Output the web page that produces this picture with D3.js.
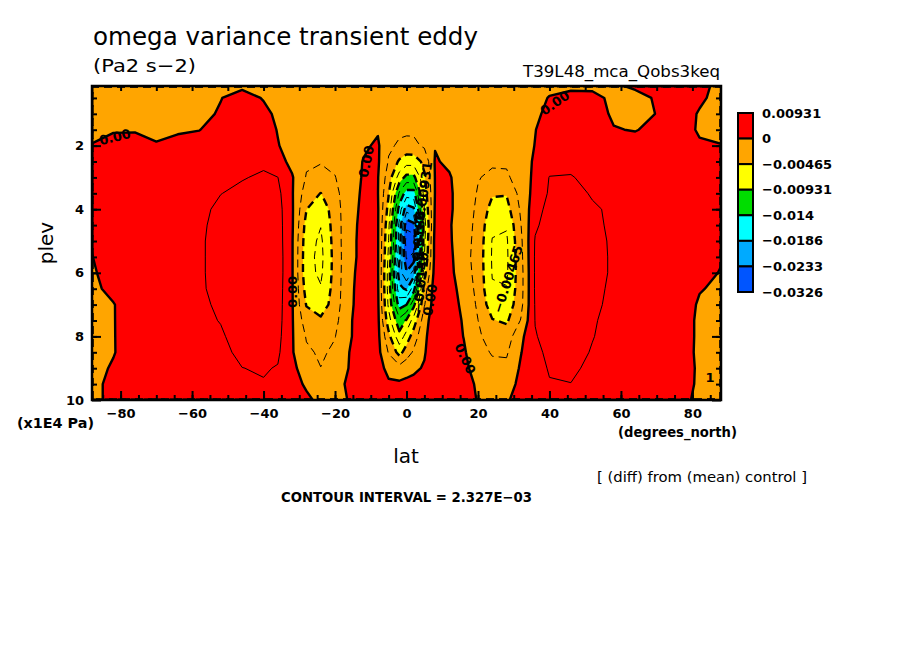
<!DOCTYPE html>
<html>
<head>
<meta charset="utf-8">
<script src="https://cdnjs.cloudflare.com/ajax/libs/d3/7.8.5/d3.min.js"></script>
<style>
  body { margin: 0; background: #fff; }
  text { font-family: "DejaVu Sans", sans-serif; fill: #000; }
</style>
</head>
<body>
<svg id="chart" width="904" height="654"></svg>
<script>
// grid of the field: latitude columns and pressure rows (x1E4 Pa)
const lat = [-88, -82, -76, -70, -64, -58, -52, -46, -40, -36, -32, -28, -24, -20, -16, -12, -8, -5, -2, 0,
             2, 5, 8, 12, 16, 20, 24, 28, 32, 36, 40, 46, 52, 58, 64, 70, 76, 82, 88];
const plev = [0.125, 0.5, 1, 1.5, 2, 2.5, 3, 3.5, 4, 4.5, 5, 5.5, 6, 6.5, 7, 7.5, 8, 8.5, 9, 9.5, 10];

// omega variance, one column per latitude (top -> bottom), in 1E-3 Pa2 s-2
const omegaCols = [
  [-0.8,-0.7,-0.5,-0.3,0.05,0.4,0.7,0.9,1.0,0.6,0.1,-0.05,-0.3,-0.5,-0.7,-0.8,-0.8,-0.7,-0.6,-0.5,-0.5],
  [-0.8,-0.7,-0.5,-0.1,0.4,0.8,1.1,1.3,1.4,1.4,1.3,1.2,1.0,0.6,-0.1,-0.1,-0.1,-0.1,0.2,0.5,0.5],
  [-0.8,-0.7,-0.45,-0.1,0.5,1.0,1.4,1.6,1.8,1.9,1.9,1.8,1.7,1.5,1.3,1.2,1.1,1.0,0.9,0.9,0.8],
  [-0.8,-0.7,-0.6,-0.3,0.1,0.8,1.4,1.7,1.9,2.0,2.0,1.9,1.9,1.8,1.7,1.6,1.5,1.4,1.3,1.2,1.1],
  [-0.7,-0.6,-0.45,-0.2,0.5,1.0,1.5,1.8,2.0,2.0,2.0,2.0,2.0,1.9,1.8,1.7,1.6,1.5,1.4,1.3,1.2],
  [-0.6,-0.4,-0.4,-0.05,0.8,1.4,1.7,1.9,2.0,2.05,2.1,2.1,2.1,2.1,2.0,1.9,1.8,1.6,1.5,1.4,1.3],
  [-0.3,-0.05,0.15,0.8,1.5,1.8,2.1,2.3,2.6,2.8,2.9,2.9,2.9,2.8,2.6,2.4,2.1,1.8,1.5,1.3,1.2],
  [-0.3,0.6,1.0,1.5,2.0,2.1,2.25,2.6,3.0,3.3,3.5,3.6,3.6,3.6,3.5,3.4,3.1,2.8,2.3,2.0,1.8],
  [-0.4,-0.1,0.4,0.9,1.8,2.1,2.5,3.0,3.4,3.6,3.8,3.9,4.0,4.0,3.9,3.7,3.4,3.0,2.5,2.2,2.0],
  [-0.7,-0.6,-0.3,-0.1,0.1,0.8,2.35,2.9,3.2,3.3,3.4,3.5,3.5,3.4,3.3,3.2,3.0,2.7,2.2,1.9,1.7],
  [-0.8,-0.8,-0.7,-0.6,-0.8,-0.6,0.2,0.2,0.3,0.3,0.2,0.2,0.2,0.2,0.2,0.2,0.2,0.2,0.5,0.8,1.0],
  [-0.9,-1.0,-1.0,-1.1,-1.6,-2.0,-2.5,-3.5,-4.6,-5.5,-6.0,-6.2,-6.2,-5.6,-4.8,-3.5,-2.5,-2.0,-1.0,-0.3,0.4],
  [-0.9,-1.0,-1.1,-1.3,-1.8,-2.2,-3.0,-4.7,-6.2,-6.9,-7.4,-7.6,-7.4,-6.8,-6.0,-4.2,-3.0,-2.6,-2.3,-1.0,-0.5],
  [-0.9,-1.0,-1.1,-1.3,-1.6,-1.9,-2.4,-3.0,-3.4,-3.6,-3.7,-3.8,-3.8,-3.7,-3.5,-3.0,-2.4,-2.0,-1.5,-0.6,-0.6],
  [-0.9,-1.0,-1.1,-1.1,-1.0,-1.0,-1.0,-0.8,-0.7,-0.6,-0.5,-0.5,-0.4,-0.3,-0.3,-0.2,-0.2,0.0,0.1,0.3,0.1],
  [-0.9,-1.0,-1.1,-0.7,-0.3,0.1,0.2,0.3,0.4,0.5,0.5,0.5,0.6,0.6,0.7,0.8,0.9,1.0,1.1,1.2,1.2],
  [-1.0,-1.1,-1.1,-0.2,0.3,0.3,0.1,0.05,0.2,0.2,0.2,0.2,0.2,0.3,0.4,0.5,0.6,0.7,0.8,0.9,1.0],
  [-1.0,-1.2,-1.4,-1.6,-2.0,-2.5,-3.5,-4.5,-5.5,-6.5,-7.0,-7.5,-8.0,-8.0,-7.5,-6.0,-4.0,-2.5,-0.6,0.3,0.8],
  [-1.1,-1.3,-1.6,-2.0,-2.6,-5.0,-8.0,-12,-15,-17,-17,-18,-20,-18,-15,-11,-8.5,-5.5,-1.5,0.4,0.7],
  [-1.1,-1.3,-1.6,-1.9,-3.0,-6.0,-10,-15,-20,-25,-27,-26,-23,-19,-14,-9,-6,-3.5,-0.8,0.5,0.8],
  [-1.1,-1.3,-1.6,-2.0,-2.8,-6.0,-10,-15,-19,-24,-27,-25,-20,-15,-10,-6,-3.5,-2.0,-0.4,0.6,0.9],
  [-1.0,-1.2,-1.4,-1.6,-2.0,-4.0,-5.0,-6.0,-7.0,-8.0,-7.5,-7.0,-5.5,-3.5,-2.5,-1.0,-0.5,-0.2,0.2,0.8,1.1],
  [-1.0,-1.1,-1.1,-0.6,-0.1,0.2,0.1,0.1,0.3,0.5,0.8,0.8,1.0,1.3,1.4,1.5,1.6,1.6,1.5,1.4,1.4],
  [-0.9,-1.0,-1.0,-0.7,-0.6,-0.4,0.2,0.3,0.3,0.2,0.3,0.5,0.6,0.8,1.0,1.1,1.2,1.3,1.3,1.3,1.3],
  [-0.9,-1.0,-1.1,-1.2,-1.2,-1.3,-1.2,-1.0,-1.0,-1.2,-1.4,-1.5,-1.3,-0.8,-0.5,-0.2,-0.05,0.3,0.6,0.8,0.8],
  [-0.9,-1.0,-1.1,-1.3,-1.5,-1.7,-2.2,-2.5,-2.8,-3.0,-3.1,-3.2,-3.1,-3.0,-2.7,-2.3,-2.0,-1.6,-1.0,-0.3,-0.1],
  [-0.9,-1.0,-1.1,-1.3,-1.6,-2.0,-2.8,-4.4,-5.5,-6.5,-7.1,-7.2,-7.1,-6.8,-6.0,-4.5,-3.2,-2.5,-1.8,-1.2,-0.8],
  [-0.9,-1.0,-1.1,-1.3,-1.5,-2.0,-2.7,-4.5,-5.5,-6.8,-7.3,-7.4,-7.3,-6.9,-6.2,-5.0,-3.5,-2.6,-1.8,-1.0,-0.2],
  [-0.8,-0.8,-0.7,-0.6,-0.8,-1.0,-1.2,-1.5,-2.0,-2.4,-2.8,-3.0,-3.2,-3.2,-3.0,-2.2,-0.6,-0.1,0.3,0.6,0.7],
  [-0.7,-0.6,-0.3,-0.05,0.05,0.3,0.5,0.8,1.5,2.0,2.5,2.6,2.6,2.6,2.5,2.4,2.2,1.8,1.5,1.3,1.2],
  [-0.5,0.1,0.4,0.8,1.0,1.4,2.4,2.6,3.0,3.2,3.4,3.5,3.5,3.5,3.4,3.2,3.0,2.8,2.5,2.2,1.9],
  [-0.4,0.6,1.0,1.5,1.8,2.0,2.4,2.8,3.2,3.4,3.6,3.7,3.8,3.8,3.7,3.5,3.3,3.0,2.6,2.3,2.0],
  [-0.4,0.5,0.9,1.3,1.6,1.8,2.0,2.2,2.5,2.6,2.8,2.9,2.9,2.8,2.7,2.5,2.4,2.2,2.0,1.9,1.7],
  [-0.3,-0.4,-0.3,0.1,0.9,1.3,1.8,2.0,2.1,2.1,2.1,2.1,2.1,2.0,1.9,1.8,1.7,1.6,1.5,1.4,1.3],
  [0.3,-0.6,-0.6,-0.1,0.8,1.2,1.6,1.8,2.0,2.0,2.0,1.9,1.8,1.7,1.6,1.5,1.4,1.3,1.2,1.1,1.0],
  [0.5,0.2,0.05,0.5,0.9,1.2,1.5,1.7,1.8,1.8,1.8,1.7,1.6,1.5,1.4,1.3,1.2,1.1,1.0,0.9,0.8],
  [0.5,0.6,0.6,0.8,0.9,1.1,1.3,1.5,1.6,1.6,1.6,1.5,1.4,1.2,1.0,0.9,0.9,0.8,0.7,0.6,0.3],
  [0.3,0.2,-0.1,-0.2,0.2,0.8,1.0,1.2,1.3,1.3,1.3,1.0,0.6,0.1,-0.2,-0.3,-0.3,-0.3,-0.2,-0.2,-0.2],
  [-0.3,-0.4,-0.6,-0.4,0.05,0.5,0.8,1.0,1.1,1.1,0.5,0.15,-0.1,-0.3,-0.5,-0.6,-0.6,-0.5,-0.4,-0.4,-0.4]
];

// colour key (top -> bottom)
const legendLevels = [0.00931, 0, -0.00465, -0.00931, -0.014, -0.0186, -0.0233, -0.0326];
const legendLabels = ["0.00931", "0", "\u22120.00465", "\u22120.00931", "\u22120.014", "\u22120.0186", "\u22120.0233", "\u22120.0326"];
const bandColors = ["#ff0000", "#ffa500", "#ffff00", "#00dd00", "#00ffff", "#00aaff", "#0055ff"];

const contourInterval = 0.002327;
const lineSteps = d3.range(-14, 4);

const xTicks = [-80, -60, -40, -20, 0, 20, 40, 60, 80];
const yTicks = [2, 4, 6, 8, 10];

// contour labels: text, lat, plev, angle
const cLabelText  = ["0.00", "0.00", "0.00", "0.00", "0.00", "0.00", "\u22120.00465", "\u22120.00931", "\u22120.0186", "\u22120.0140", "1"];
const cLabelLat   = [-81.6, -11.2, -32.0, 6.6, 16.4, 41.5, 28.4, 4.6, 3.4, 4.0, 84.9];
const cLabelP     = [1.73, 2.5, 6.6, 6.85, 8.7, 0.66, 6.2, 3.6, 5.0, 6.3, 9.3];
const cLabelAngle = [-14, -78, -90, -80, 65, -35, -72, -82, -86, -84, 0];

const svg = d3.select("#chart");
const W = 904, H = 654;
const plot = { left: 92, right: 721, top: 86, bottom: 400 };

const x = d3.scaleLinear().domain([-88, 88]).range([plot.left, plot.right]);
const y = d3.scaleLinear().domain([0.125, 10]).range([plot.top, plot.bottom]);

svg.append("rect").attr("width", W).attr("height", H).attr("fill", "#fff");

// flatten the columns into the row-major grid d3.contours wants
const nx = lat.length, ny = plev.length;
const grid = [];
for (let j = 0; j < ny; j++) {
  for (let i = 0; i < nx; i++) grid.push(omegaCols[i][j] * 1e-3);
}

// grid index -> lat / plev (uneven spacing), then to pixels
const gx = d3.scaleLinear().domain(d3.range(nx)).range(lat).clamp(true);
const gy = d3.scaleLinear().domain(d3.range(ny)).range(plev).clamp(true);
const proj = d3.geoTransform({
  point: function(px, py) { this.stream.point(x(gx(px - 0.5)), y(gy(py - 0.5))); }
});
const path = d3.geoPath(proj);

svg.append("defs").append("clipPath").attr("id", "plot-clip")
  .append("rect")
  .attr("x", plot.left).attr("y", plot.top)
  .attr("width", plot.right - plot.left).attr("height", plot.bottom - plot.top);

const field = svg.append("g").attr("clip-path", "url(#plot-clip)");

// --- filled bands ---
field.append("rect")
  .attr("x", plot.left).attr("y", plot.top)
  .attr("width", plot.right - plot.left).attr("height", plot.bottom - plot.top)
  .attr("fill", bandColors[bandColors.length - 1]);

const fillThresholds = legendLevels.slice(1, -1).reverse(); // -0.0233 ... 0
const fillBands = d3.contours().size([nx, ny]).thresholds(fillThresholds)(grid);
field.selectAll("path.band")
  .data(fillBands)
  .join("path")
  .attr("class", "band")
  .attr("d", path)
  .attr("fill", (d, i) => bandColors[bandColors.length - 2 - i]);

// --- contour lines ---
const lineLevels = lineSteps.map(k => k * contourInterval);
const lineContours = d3.contours().size([nx, ny]).thresholds(lineLevels)(grid);
field.selectAll("path.cline")
  .data(lineContours)
  .join("path")
  .attr("class", "cline")
  .attr("d", path)
  .attr("fill", "none")
  .attr("stroke", "#000")
  .attr("stroke-linejoin", "round")
  .each(function(d, i) {
    const k = lineSteps[i];
    const sel = d3.select(this);
    if (k === 0) sel.attr("stroke-width", 2.4);
    else if (k > 0) sel.attr("stroke-width", 1);
    else sel.attr("stroke-width", k % 2 === 0 ? 2.4 : 1).attr("stroke-dasharray", "8,5");
  });

// contour labels
field.selectAll("text.clabel")
  .data(cLabelText)
  .join("text")
  .attr("class", "clabel")
  .attr("transform", (d, i) => `translate(${x(cLabelLat[i])},${y(cLabelP[i])}) rotate(${cLabelAngle[i]})`)
  .attr("text-anchor", "middle")
  .attr("dominant-baseline", "central")
  .attr("font-size", 13)
  .attr("font-weight", "bold")
  .text(d => d);

// --- axes (ticks point into the frame) ---
const axisFont = g => g.selectAll("text").attr("font-size", 13).attr("font-weight", "bold")
  .attr("font-family", "DejaVu Sans, sans-serif");
const noDomain = g => g.select(".domain").remove();

svg.append("g").attr("transform", `translate(0,${plot.bottom})`)
  .call(d3.axisBottom(x).tickValues(d3.range(-85, 86, 5)).tickSize(-5).tickFormat(""))
  .call(noDomain);
svg.append("g").attr("transform", `translate(0,${plot.bottom})`)
  .call(d3.axisBottom(x).tickValues(xTicks).tickSize(-9).tickPadding(9))
  .call(noDomain).call(axisFont);
svg.append("g").attr("transform", `translate(0,${plot.top})`)
  .call(d3.axisTop(x).tickValues(d3.range(-80, 81, 10)).tickSize(-5).tickFormat(""))
  .call(noDomain);

svg.append("g").attr("transform", `translate(${plot.left},0)`)
  .call(d3.axisLeft(y).tickValues(d3.range(0.5, 10, 0.5)).tickSize(-5).tickFormat(""))
  .call(noDomain);
svg.append("g").attr("transform", `translate(${plot.left},0)`)
  .call(d3.axisLeft(y).tickValues(yTicks).tickSize(-9).tickPadding(8))
  .call(noDomain).call(axisFont);
svg.append("g").attr("transform", `translate(${plot.right},0)`)
  .call(d3.axisRight(y).tickValues(d3.range(0.5, 10, 0.5)).tickSize(-5).tickFormat(""))
  .call(noDomain);
svg.append("g").attr("transform", `translate(${plot.right},0)`)
  .call(d3.axisRight(y).tickValues(yTicks).tickSize(-9).tickFormat(""))
  .call(noDomain);
svg.selectAll(".tick line").attr("stroke", "#000").attr("stroke-width", 2);

// frame
svg.append("rect")
  .attr("x", plot.left).attr("y", plot.top)
  .attr("width", plot.right - plot.left).attr("height", plot.bottom - plot.top)
  .attr("fill", "none").attr("stroke", "#000").attr("stroke-width", 2.5);

// --- titles and notes ---
function note(txt, px, py, size, opts = {}) {
  const t = svg.append("text").attr("x", px).attr("y", py).attr("font-size", size).text(txt);
  if (opts.weight) t.attr("font-weight", opts.weight);
  if (opts.anchor) t.attr("text-anchor", opts.anchor);
  if (opts.len) t.attr("textLength", opts.len).attr("lengthAdjust", "spacingAndGlyphs");
  return t;
}
note("omega variance transient eddy", 93, 45, 24, { len: 385 });
note("(Pa2 s\u22122)", 93, 72, 18, { len: 103 });
note("T39L48_mca_Qobs3keq", 523, 77, 16, { len: 197 });
note("lat", 406, 463, 20, { anchor: "middle" });
note("(x1E4 Pa)", 17, 428, 14, { weight: "bold", len: 77 });
note("(degrees_north)", 618, 437, 14, { weight: "bold", len: 119 });
note("[ (diff) from (mean) control ]", 597, 482, 14, { len: 210 });
note("CONTOUR INTERVAL = 2.327E\u221203", 281, 502, 14, { weight: "bold", len: 251 });

svg.append("text")
  .attr("transform", "translate(46,243) rotate(-90)")
  .attr("text-anchor", "middle")
  .attr("dominant-baseline", "central")
  .attr("font-size", 20)
  .text("plev");

// --- colour key ---
const ly = d3.scaleLinear().domain([0, bandColors.length]).range([113, 292]);
const key = svg.append("g");
key.selectAll("rect")
  .data(bandColors)
  .join("rect")
  .attr("x", 738).attr("width", 15)
  .attr("y", (d, i) => ly(i))
  .attr("height", (d, i) => ly(i + 1) - ly(i))
  .attr("fill", d => d)
  .attr("stroke", "#000").attr("stroke-width", 2);
key.selectAll("text")
  .data(legendLabels)
  .join("text")
  .attr("x", 762)
  .attr("y", (d, i) => ly(i))
  .attr("dominant-baseline", "central")
  .attr("font-size", 13)
  .attr("font-weight", "bold")
  .text(d => d);
</script>
</body>
</html>
